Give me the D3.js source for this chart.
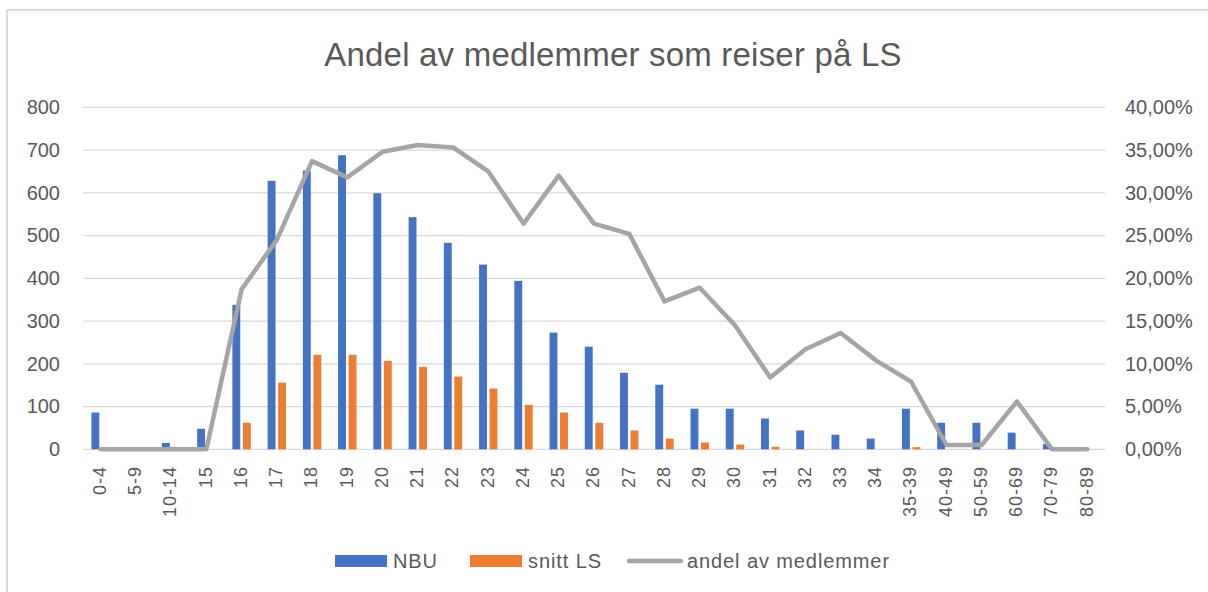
<!DOCTYPE html>
<html>
<head>
<meta charset="utf-8">
<script src="https://cdn.jsdelivr.net/npm/d3@7"></script>
<style>
  html, body { margin: 0; padding: 0; background: #fff; }
  svg { display: block; }
  text { font-family: "Liberation Sans", Arial, sans-serif; fill: #595959; }
</style>
</head>
<body>
<svg id="chart" width="1208" height="592"></svg>
<script>
const categories = ["0-4","5-9","10-14","15","16","17","18","19","20","21","22","23","24","25","26","27","28","29","30","31","32","33","34","35-39","40-49","50-59","60-69","70-79","80-89"];
const nbu   = [86,0,15,48,338,628,652,688,599,543,483,432,394,273,240,179,151,95,95,72,44,34,25,95,62,62,39,12,0];
const snitt = [0,0,0,0,62,156,221,221,207,193,170,142,104,86,62,44,25,16,11,6,0,0,0,5,0,0,0,0,0];
const andel = [0,0,0,0,0.187,0.245,0.337,0.318,0.348,0.356,0.353,0.325,0.264,0.320,0.264,0.252,0.173,0.189,0.145,0.084,0.117,0.136,0.104,0.079,0.005,0.005,0.056,0,0];
const leftTicks  = [0,100,200,300,400,500,600,700,800];
const rightTicks = [0,0.05,0.10,0.15,0.20,0.25,0.30,0.35,0.40];
const seriesNames = ["NBU","snitt LS","andel av medlemmer"];
const title = "Andel av medlemmer som reiser på LS";

const colors = { "NBU": "#4472c4", "snitt LS": "#ed7d31", "andel av medlemmer": "#a5a5a5" };

const svg = d3.select("#chart");
const plot = { left: 83, right: 1105, top: 107.3, bottom: 449.3 };

// outer chart border
svg.append("rect").attr("x", 7).attr("y", 10).attr("width", 1220).attr("height", 620)
  .attr("fill", "#fff").attr("stroke", "#d9d9d9").attr("stroke-width", 2);

const x = d3.scaleBand().domain(categories).range([plot.left, plot.right]).padding(0);
const yL = d3.scaleLinear().domain([0, 800]).range([plot.bottom, plot.top]);
const yR = d3.scaleLinear().domain([0, 0.40]).range([plot.bottom, plot.top]);
const x1 = d3.scaleBand().domain(["NBU","snitt LS"]).range([-9.2, 9.2]).paddingInner(0.25).paddingOuter(0);

// gridlines
svg.append("g").selectAll("line").data(leftTicks).join("line")
  .attr("x1", plot.left).attr("x2", plot.right)
  .attr("y1", d => yL(d)).attr("y2", d => yL(d))
  .attr("stroke", "#d9d9d9").attr("stroke-width", 1.3);

// left axis
const leftAxis = svg.append("g").attr("transform", `translate(${plot.left - 23},0)`)
  .call(d3.axisLeft(yL).tickValues(leftTicks).tickSize(0).tickPadding(0));
leftAxis.select(".domain").remove();
leftAxis.selectAll("text").attr("font-size", 20).attr("fill", "#595959")
  .style("font-family", '"Liberation Sans", Arial, sans-serif');

// right axis
const fmtPct = d => d3.format(".2f")(d * 100).replace(".", ",") + "%";
const rightAxis = svg.append("g").attr("transform", `translate(${plot.right + 20},0)`)
  .call(d3.axisRight(yR).tickValues(rightTicks).tickFormat(fmtPct).tickSize(0).tickPadding(0));
rightAxis.select(".domain").remove();
rightAxis.selectAll("text").attr("font-size", 20).attr("fill", "#595959")
  .style("font-family", '"Liberation Sans", Arial, sans-serif');

// bars
const groups = svg.append("g").selectAll("g").data(categories).join("g")
  .attr("transform", d => `translate(${x(d) + x.bandwidth() / 2},0)`);
groups.append("rect")
  .attr("x", x1("NBU")).attr("width", x1.bandwidth())
  .attr("y", (d, i) => yL(nbu[i])).attr("height", (d, i) => yL(0) - yL(nbu[i]))
  .attr("fill", colors["NBU"]);
groups.append("rect")
  .attr("x", x1("snitt LS")).attr("width", x1.bandwidth())
  .attr("y", (d, i) => yL(snitt[i])).attr("height", (d, i) => yL(0) - yL(snitt[i]))
  .attr("fill", colors["snitt LS"]);

// line
const line = d3.line()
  .x((d, i) => x(categories[i]) + x.bandwidth() / 2)
  .y(d => yR(d));
svg.append("path").datum(andel).attr("d", line)
  .attr("fill", "none").attr("stroke", colors["andel av medlemmer"])
  .attr("stroke-width", 4.5).attr("stroke-linejoin", "round").attr("stroke-linecap", "round");

// x labels
svg.append("g").selectAll("text").data(categories).join("text")
  .attr("transform", d => `translate(${x(d) + x.bandwidth() / 2 - 1},466) rotate(-90)`)
  .attr("text-anchor", "end").attr("dy", "0.35em")
  .attr("font-size", 18).attr("letter-spacing", 1)
  .text(d => d);

// title
svg.append("text").attr("x", 613).attr("y", 66).attr("text-anchor", "middle")
  .attr("font-size", 33).attr("letter-spacing", 0.2).text(title);

// legend
const legend = svg.append("g");
const legendItems = [
  { name: seriesNames[0], x: 335, type: "rect" },
  { name: seriesNames[1], x: 470, type: "rect" },
  { name: seriesNames[2], x: 629, type: "line" }
];
legendItems.forEach(it => {
  if (it.type === "rect") {
    legend.append("rect").attr("x", it.x).attr("y", 555).attr("width", 52).attr("height", 12)
      .attr("fill", colors[it.name]);
  } else {
    legend.append("line").attr("x1", it.x).attr("x2", it.x + 52).attr("y1", 561).attr("y2", 561)
      .attr("stroke", colors[it.name]).attr("stroke-width", 4.5).attr("stroke-linecap", "round");
  }
  legend.append("text").attr("x", it.x + 58).attr("y", 561).attr("dy", "0.35em")
    .attr("font-size", 20).attr("letter-spacing", 0.9).text(it.name);
});
</script>
</body>
</html>
